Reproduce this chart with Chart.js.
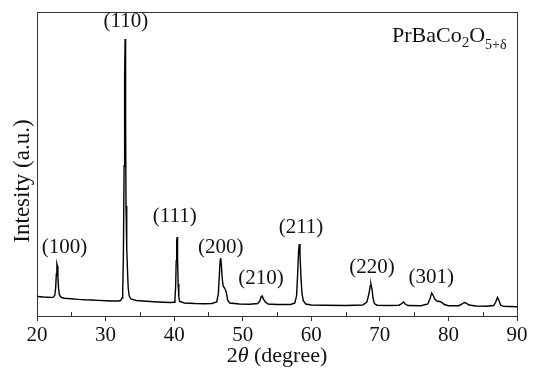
<!DOCTYPE html>
<html>
<head>
<meta charset="utf-8">
<script src="https://cdn.jsdelivr.net/npm/chart.js@4/dist/chart.umd.min.js"></script>
<style>
html,body{margin:0;padding:0;background:#fff;}
canvas{display:block;}
</style>
</head>
<body>
<canvas id="c" width="533" height="373"></canvas>
<script>
// ---- data ----
const angles = [20.0,20.5,21.0,21.5,22.0,22.4,22.6,22.72,22.82,22.9,22.97,23.05,23.15,23.25,23.4,23.6,24.0,25.0,26.0,27.0,28.0,29.0,30.0,31.0,31.8,32.2,32.4,32.5,32.6,32.7,32.78,32.85,32.92,32.98,33.05,33.12,33.2,33.3,33.45,33.7,34.5,35.5,37.0,38.5,39.5,40.0,40.12,40.22,40.3,40.37,40.43,40.5,40.58,40.68,40.8,41.5,43.0,44.5,45.5,46.2,46.45,46.6,46.72,46.8,46.9,47.0,47.15,47.35,47.5,47.65,47.8,48.1,49.5,51.0,52.2,52.5,52.7,52.85,53.0,53.3,53.7,55.0,57.0,57.6,57.85,58.0,58.15,58.25,58.35,58.5,58.65,58.85,59.2,60.0,62.0,65.0,67.5,68.1,68.4,68.6,68.7,68.85,69.0,69.2,69.6,71.0,72.8,73.2,73.45,73.7,74.1,76.0,77.0,77.3,77.55,77.75,78.0,78.3,78.7,79.0,79.4,80.0,81.5,82.0,82.3,82.6,83.0,84.0,85.5,86.6,86.9,87.15,87.35,87.6,88.0,89.0,90.0];
const intensity = [19.5,19.3,19.0,18.8,18.6,18.8,21,28,42,52,50,38,27,22,19.5,18.5,17.8,17.2,16.6,16.2,16.0,15.6,15.3,15.0,15.0,15.5,18,24,60,150,240,277,200,110,75,68,45,28,20,17,15.5,15.0,14.3,13.8,13.5,13.8,17,30,55,75,79,58,32,19,14.5,13,12.5,12.3,12.5,14,22,42,56,58,50,38,30,28,26,22,16,13,12,11.8,12.5,15,19.5,20,17,14,12,11.5,11.5,13,20,40,65,72,62,38,22,15,12,11,10.7,10.5,11,14,22,30,32,27,18,12.5,10.8,10.5,10.8,12.5,14,12,10.5,10.3,12,17,23,21,17,15,14.5,13.8,11.5,10.3,10.3,12,13.5,12.8,11,10,9.8,10.5,14,18.5,16,11,9.6,9.5,9.3];
const xTicks = [20,30,40,50,60,70,80,90];
const minorTicks = [25,35,45,55,65,75,85];
const peakLabels = ['(100)','(110)','(111)','(200)','(210)','(211)','(220)','(301)'];
const peakLabelAngle = [24.0,32.95,40.1,46.8,52.66,58.5,68.85,77.5];
const peakLabelIntensity = [69,295,100,69,38,89,49,39];
const xTitle = ['2','\u03B8',' (degree)'];
const yTitle = 'Intesity (a.u.)';
const sampleName = ['PrBaCo','2','O','5+\u03B4'];

const SERIF = '"Liberation Serif","Times New Roman",serif';

const textPlugin = {
  id: 'texts',
  afterDraw(chart) {
    const ctx = chart.ctx;
    const xs = chart.scales.x, ys = chart.scales.y;
    const a = chart.chartArea;
    ctx.save();
    // frame
    ctx.strokeStyle = '#333';
    ctx.lineWidth = 1;
    ctx.strokeRect(Math.round(a.left)+0.5, Math.round(a.top)+0.5, Math.round(a.right-a.left), Math.round(a.bottom-a.top));
    // minor inward ticks
    ctx.beginPath();
    minorTicks.forEach(v => {
      const px = Math.round(xs.getPixelForValue(v)) + 0.5;
      ctx.moveTo(px, a.bottom);
      ctx.lineTo(px, a.bottom - 4);
    });
    ctx.stroke();
    // peak labels
    ctx.fillStyle = '#111';
    ctx.font = '21px ' + SERIF;
    ctx.textAlign = 'center';
    ctx.textBaseline = 'middle';
    peakLabels.forEach((t, i) => {
      ctx.fillText(t, xs.getPixelForValue(peakLabelAngle[i]), ys.getPixelForValue(peakLabelIntensity[i]));
    });
    // x title with italic theta
    const f = '22px ' + SERIF, fi = 'italic 22px ' + SERIF;
    ctx.textAlign = 'left';
    ctx.textBaseline = 'alphabetic';
    const fonts = [f, fi, f];
    let w = 0;
    const ws = xTitle.map((t, i) => { ctx.font = fonts[i]; const m = ctx.measureText(t).width; w += m; return m; });
    let x = (a.left + a.right) / 2 - w / 2;
    const by = 362;
    xTitle.forEach((t, i) => { ctx.font = fonts[i]; ctx.fillText(t, x, by); x += ws[i]; });
    // y title
    ctx.save();
    ctx.translate(29, 181);
    ctx.rotate(-Math.PI / 2);
    ctx.font = '23px ' + SERIF;
    ctx.textAlign = 'center';
    ctx.textBaseline = 'alphabetic';
    ctx.fillText(yTitle, 0, 0);
    ctx.restore();
    // sample name with subscripts
    const parts = [
      {t: sampleName[0], f: '22px ' + SERIF, dy: 0},
      {t: sampleName[1], f: '15px ' + SERIF, dy: 5},
      {t: sampleName[2], f: '22px ' + SERIF, dy: 0},
      {t: sampleName[3], f: '14px ' + SERIF, dy: 7}
    ];
    let sx = 392;
    const sb = 42;
    parts.forEach(p => { ctx.font = p.f; ctx.fillText(p.t, sx, sb + p.dy); sx += ctx.measureText(p.t).width; });
    ctx.restore();
  }
};

new Chart(document.getElementById('c'), {
  type: 'line',
  data: {
    datasets: [{
      data: angles.map((v, i) => ({x: v, y: intensity[i]})),
      borderColor: '#000',
      borderWidth: 1.4,
      pointRadius: 0,
      tension: 0,
      fill: false
    }]
  },
  options: {
    responsive: false,
    animation: false,
    devicePixelRatio: 1,
    layout: {padding: {left: 0, right: 16, top: 12, bottom: 0}},
    plugins: {legend: {display: false}, tooltip: {enabled: false}},
    scales: {
      x: {
        type: 'linear', min: 20, max: 90,
        afterBuildTicks: s => { s.ticks = xTicks.map(v => ({value: v})); },
        afterFit: s => { s.height = 57; },
        grid: {drawOnChartArea: false, drawTicks: true, tickLength: 5, color: '#333'},
        border: {display: true, color: '#333'},
        ticks: {color: '#111', font: {family: SERIF, size: 21}, padding: 2, maxRotation: 0}
      },
      y: {
        min: 0, max: 304,
        afterFit: s => { s.width = 37; },
        grid: {display: false},
        border: {display: true, color: '#333'},
        ticks: {display: false}
      }
    }
  },
  plugins: [textPlugin]
});
</script>
</body>
</html>
